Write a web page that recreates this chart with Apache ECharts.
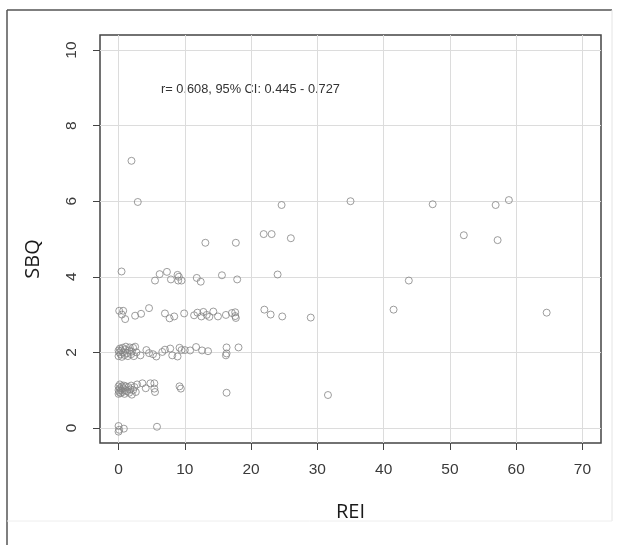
<!DOCTYPE html>
<html>
<head>
<meta charset="utf-8">
<script src="https://cdn.jsdelivr.net/npm/echarts@6/dist/echarts.min.js"></script>
<style>
  html, body { margin: 0; padding: 0; background: #fff; }
  #chart { width: 617px; height: 552px; }
</style>
</head>
<body>
<div id="chart"></div>
<script>
// REI (x) and SBQ (y) values, paired by index
const reiValues = [
    // SBQ ~ 0
    0, 0.1, 0, 0.8, 5.8,
    // SBQ ~ 1
    0, 0, 0, 0.1, 0.2, 0.2, 0.3, 0.4, 0.5, 0.6, 0.7, 0.8, 0.9, 1.0, 1.1, 1.3, 1.5, 1.6, 1.8, 1.9, 2.0, 2.2, 2.4, 2.6,
    2.8, 3.6, 4.1, 4.8, 5.4, 5.4, 5.5, 9.2, 9.4, 16.3, 31.6,
    // SBQ ~ 2
    0, 0, 0.1, 0.2, 0.3, 0.4, 0.5, 0.6, 0.7, 0.9, 1.0, 1.1, 1.3, 1.4, 1.6, 1.7, 1.9, 2.0, 2.2, 2.3, 2.5, 2.7,
    3.3, 4.2, 4.6, 5.2, 5.7, 6.6, 7.0, 7.8, 8.1, 8.9, 9.2, 9.5, 10.0, 10.8, 11.7, 12.6, 13.5, 16.3, 16.3, 16.2, 18.1,
    // SBQ ~ 3
    0.1, 0.7, 0.5, 1.0, 2.5, 3.4, 4.6, 7.0, 7.7, 8.4, 9.9, 11.4, 11.9, 12.8, 12.5, 13.3, 13.7, 14.3, 15.0, 16.2,
    17.1, 17.6, 17.6, 17.7, 22.0, 22.95, 24.7, 29.0, 41.5, 64.6,
    // SBQ ~ 4
    0.45, 5.5, 6.2, 7.3, 7.9, 8.9, 9.1, 9.0, 9.5, 11.8, 12.4, 15.6, 17.9, 24.0, 43.8,
    // SBQ ~ 5
    13.1, 17.7, 21.9, 23.1, 26.0, 52.1, 57.2,
    // SBQ ~ 6
    2.9, 24.6, 35.0, 47.4, 56.9, 58.9,
    // SBQ ~ 7
    1.95
];
const sbqValues = [
    0.05, -0.05, -0.1, -0.02, 0.03,
    0.9, 1.0, 1.1, 0.95, 1.05, 1.15, 0.92, 1.0, 1.1, 0.95, 1.05, 1.12, 0.9, 1.0, 1.1, 0.97, 1.08, 0.93, 1.02, 1.12, 0.88, 1.0, 1.08, 0.95,
    1.15, 1.18, 1.05, 1.18, 1.18, 1.04, 0.95, 1.1, 1.04, 0.93, 0.87,
    1.9, 2.05, 2.0, 2.1, 1.95, 2.05, 1.88, 2.12, 2.0, 1.93, 2.08, 2.15, 1.98, 1.9, 2.05, 2.13, 1.95, 2.02, 2.12, 1.9, 2.15, 2.0,
    1.92, 2.06, 1.98, 1.95, 1.89, 2.01, 2.07, 2.1, 1.92, 1.89, 2.12, 2.06, 2.06, 2.05, 2.14, 2.05, 2.03, 2.13, 1.97, 1.92, 2.13,
    3.1, 3.1, 3.0, 2.88, 2.97, 3.02, 3.17, 3.03, 2.9, 2.95, 3.03, 2.98, 3.05, 3.07, 2.95, 2.99, 2.94, 3.08, 2.95, 2.99,
    3.04, 3.06, 2.96, 2.91, 3.13, 3.0, 2.95, 2.92, 3.13, 3.05,
    4.14, 3.9, 4.07, 4.13, 3.93, 4.05, 4.0, 3.9, 3.9, 3.97, 3.87, 4.04, 3.93, 4.06, 3.9,
    4.9, 4.9, 5.13, 5.13, 5.02, 5.1, 4.97,
    5.98, 5.9, 6.0, 5.92, 5.9, 6.03,
    7.07
];
const xTicks = [0, 10, 20, 30, 40, 50, 60, 70];
const yTicks = [0, 2, 4, 6, 8, 10];
const note = 'r= 0.608, 95% CI: 0.445 - 0.727';

const points = reiValues.map((x, i) => [x, sbqValues[i]]);

const chart = echarts.init(document.getElementById('chart'), null, {renderer: 'canvas'});

const axisText = {color: '#3a3a3a', fontFamily: 'Liberation Sans', fontSize: 15.5};

chart.setOption({
    animation: false,
    backgroundColor: '#fff',
    grid: {
        left: 100, top: 35, right: 16, bottom: 109,
        show: true,
        borderColor: '#444',
        borderWidth: 1.5,
        backgroundColor: 'transparent'
    },
    xAxis: {
        type: 'value',
        min: -2.8,
        max: 72.8,
        name: 'REI',
        nameLocation: 'middle',
        nameGap: 59,
        nameTextStyle: {color: '#1a1a1a', fontFamily: 'Open Sans', fontSize: 20},
        axisLine: {show: false, onZero: false},
        axisTick: {show: true, inside: false, length: 7, customValues: xTicks, lineStyle: {color: '#444'}},
        axisLabel: Object.assign({customValues: xTicks, margin: 19}, axisText),
        splitLine: {show: true, lineStyle: {color: '#dcdcdc', width: 1}}
    },
    yAxis: {
        type: 'value',
        min: -0.4,
        max: 10.4,
        axisLine: {show: false, onZero: false},
        axisTick: {show: true, inside: false, length: 7, customValues: yTicks, lineStyle: {color: '#444'}},
        axisLabel: Object.assign({customValues: yTicks, margin: 20, rotate: 90}, axisText),
        splitLine: {show: true, lineStyle: {color: '#dcdcdc', width: 1}}
    },
    graphic: [
        {type: 'line', silent: true, shape: {x1: 7, y1: 10, x2: 7, y2: 545}, style: {stroke: '#555', lineWidth: 1.5}},
        {type: 'line', silent: true, shape: {x1: 7, y1: 10, x2: 612, y2: 10}, style: {stroke: '#555', lineWidth: 1.5}},
        {type: 'line', silent: true, shape: {x1: 612, y1: 10, x2: 612, y2: 521}, style: {stroke: '#e4e4e4', lineWidth: 1}},
        {type: 'line', silent: true, shape: {x1: 7, y1: 521, x2: 612, y2: 521}, style: {stroke: '#eeeeee', lineWidth: 1}},
        {
            type: 'text', silent: true, x: 33, y: 259, rotation: Math.PI / 2,
            style: {text: 'SBQ', fill: '#1a1a1a', font: '20px "Open Sans"', align: 'center', verticalAlign: 'middle'}
        },
        {
            type: 'text', silent: true, x: 161, y: 89,
            style: {text: note, fill: '#333', font: '12.8px "Liberation Sans"', align: 'left', verticalAlign: 'middle'}
        }
    ],
    series: [{
        type: 'scatter',
        data: points,
        symbol: 'circle',
        symbolSize: 7,
        silent: true,
        itemStyle: {color: 'rgba(0,0,0,0)', borderColor: '#858585', borderWidth: 1},
        emphasis: {disabled: true}
    }]
});
</script>
</body>
</html>
